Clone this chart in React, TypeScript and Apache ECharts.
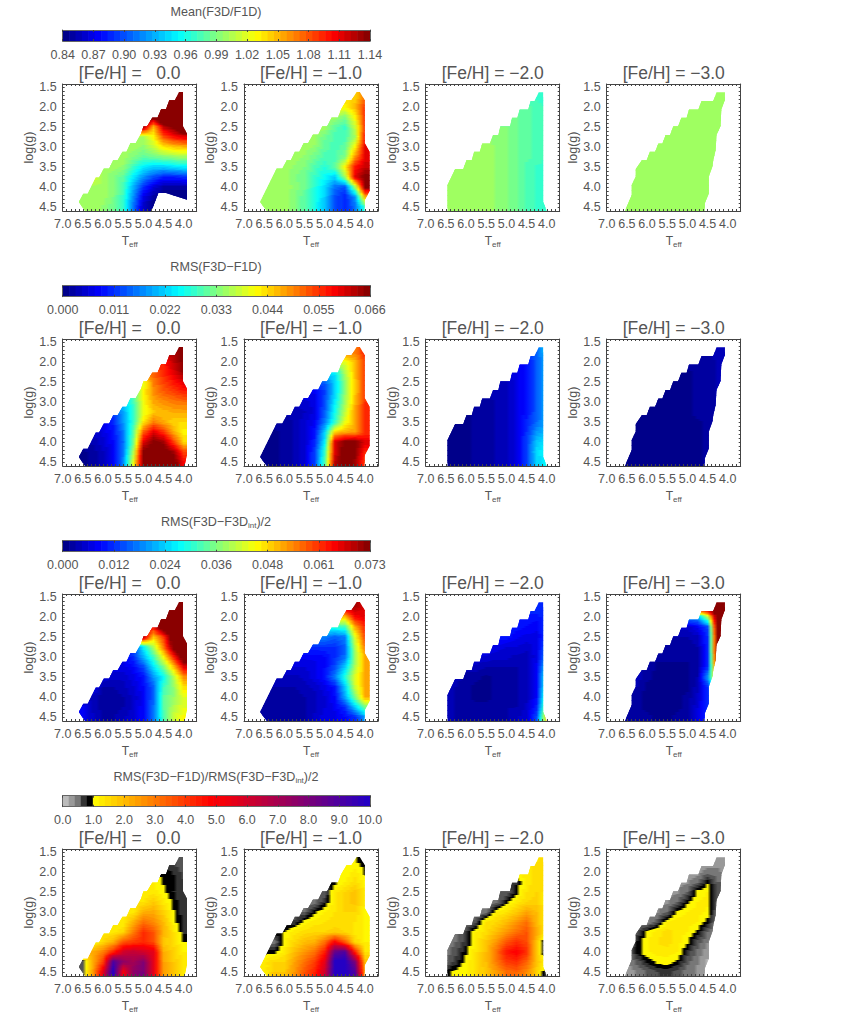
import React, { useEffect, useRef } from "react";
import * as echarts from "echarts";

const n = null;
const teffColumns = [6.5, 6.25, 6, 5.75, 5.5, 5.25, 5, 4.75, 4.5, 4.25, 4];
const loggRows = [1.75, 2, 2.25, 2.5, 2.75, 3, 3.25, 3.5, 3.75, 4, 4.25, 4.5];
const feLabels = ["0.0", "\u22121.0", "\u22122.0", "\u22123.0"];
const teffTicks = [7, 6.5, 6, 5.5, 5, 4.5, 4];
const loggTicks = [1.5, 2, 2.5, 3, 3.5, 4, 4.5];
const meanTicks = ["0.84", "0.87", "0.90", "0.93", "0.96", "0.99", "1.02", "1.05", "1.08", "1.11", "1.14"];
const rmsTicks = ["0.000", "0.011", "0.022", "0.033", "0.044", "0.055", "0.066"];
const intTicks = ["0.000", "0.012", "0.024", "0.036", "0.048", "0.061", "0.073"];
const ratioTicks = ["0.0", "1.0", "2.0", "3.0", "4.0", "5.0", "6.0", "7.0", "8.0", "9.0", "10.0"];

// outlines of the covered domain: [Teff, log g]
const outlineTop0 = [[6.45,4.6],[6.6,4.375],[6.49,4.17],[6.38,4.17],[6.18,3.76],[6.1,3.76],[5.98,3.54],[5.85,3.54],[5.75,3.33],[5.64,3.33],[5.52,3.12],[5.42,3.12],[5.32,2.9],[5.19,2.9],[5.06,2.67],[5,2.48],[4.91,2.48],[4.78,2.26],[4.65,2.26],[4.56,2.05],[4.44,2.05],[4.36,1.83],[4.22,1.83],[4.12,1.625],[4.02,1.625],[4.02,2.48],[3.92,2.67]];
const outlineFe0 = [...outlineTop0, [3.92,4.3],[3.98,4.6]];
const outlineFe0Mean = [...outlineTop0, [3.92,4.32],[4.44,4.15],[4.63,4.15],[4.8,4.6]];
const outlineFe1 = [[6.44,4.6],[6.6,4.375],[6.19,3.54],[6.05,3.54],[5.94,3.33],[5.84,3.33],[5.74,3.12],[5.63,3.12],[5.52,2.9],[5.41,2.9],[5.29,2.69],[5.16,2.69],[5.06,2.48],[4.94,2.48],[4.83,2.26],[4.67,2.26],[4.59,2.05],[4.46,1.83],[4.34,1.83],[4.21,1.625],[4.13,1.625],[4.01,1.83],[4.01,2.9],[3.89,3.12],[3.89,4.1],[4.01,4.33],[4.01,4.6]];
const outlineFe2 = [[6.46,4.6],[6.46,3.95],[6.27,3.55],[6.07,3.55],[5.99,3.33],[5.86,3.33],[5.8,3.12],[5.66,3.12],[5.6,2.91],[5.41,2.91],[5.33,2.7],[5.2,2.7],[5.15,2.48],[4.91,2.48],[4.86,2.27],[4.73,2.27],[4.67,2.06],[4.46,2.06],[4.4,1.85],[4.3,1.85],[4.2,1.63],[4.09,1.63],[4.09,4.37],[4,4.6]];
const outlineFe3 = [[6.55,4.6],[6.38,4.2],[6.38,3.95],[6.28,3.74],[6.28,3.55],[6.13,3.33],[6.01,3.33],[5.93,3.12],[5.8,3.12],[5.72,2.91],[5.62,2.91],[5.54,2.7],[5.43,2.7],[5.35,2.48],[5.23,2.48],[5.15,2.27],[5.02,2.27],[4.96,2.06],[4.73,2.06],[4.65,1.85],[4.36,1.85],[4.28,1.63],[4.07,1.63],[4.07,1.82],[4.16,2.06],[4.18,2.48],[4.28,2.7],[4.3,3.07],[4.36,3.33],[4.38,3.49],[4.47,3.74],[4.47,4.16],[4.57,4.41],[4.57,4.6]];

const meanFe0 = [
  [n,n,n,n,n,n,n,n,n,1.2,1.2],
  [n,n,n,n,n,n,n,n,1.2,1.2,1.2],
  [n,n,n,n,n,n,n,1.15,1.2,1.2,1.2],
  [n,n,n,n,n,n,1.13,1.05,1.12,1.14,1.18],
  [n,n,n,n,n,1,1,1.03,1.08,1.1,1.11],
  [n,n,n,n,1,1,0.995,1.01,1.035,1.045,1.05],
  [n,n,n,1,1,0.99,0.98,0.985,0.99,0.995,1],
  [n,n,1,1,0.995,0.97,0.95,0.94,0.94,0.945,0.95],
  [n,1.02,1,0.99,0.98,0.95,0.92,0.9,0.885,0.885,0.89],
  [n,1,1,0.99,0.975,0.93,0.89,0.865,0.85,0.85,0.85],
  [1,1,1,0.99,0.97,0.92,0.87,0.85,0.84,0.84,0.84],
  [1,1,0.995,0.985,0.965,0.91,0.86,0.84,0.84,0.84,0.84],
];
const meanFe1 = [
  [n,n,n,n,n,n,n,n,n,1.04,1.07],
  [n,n,n,n,n,n,n,n,1.03,1.05,1.09],
  [n,n,n,n,n,n,n,1,0.99,1.03,1.09],
  [n,n,n,n,n,n,1,0.98,0.97,1.01,1.09],
  [n,n,n,n,n,1,0.985,0.975,0.975,1,1.1],
  [n,n,n,n,1,0.995,0.98,0.975,0.98,1.03,1.11],
  [n,n,n,1,0.995,0.985,0.975,0.975,0.99,1.06,1.11],
  [n,n,1,0.995,0.99,0.975,0.965,0.98,1.03,1.1,1.12],
  [n,1,1,0.99,0.985,0.97,0.955,0.94,1,1.11,1.14],
  [n,1,1,0.995,0.985,0.965,0.945,0.91,0.9,1,1.14],
  [1,1,1,0.99,0.98,0.96,0.94,0.9,0.885,0.92,1.05],
  [1,1,1,0.99,0.98,0.96,0.935,0.9,0.885,0.91,0.97],
];
const meanFe2 = [
  [n,n,n,n,n,n,n,n,n,0.97,0.965],
  [n,n,n,n,n,n,n,n,0.98,0.975,0.97],
  [n,n,n,n,n,n,n,0.985,0.98,0.975,0.97],
  [n,n,n,n,n,n,0.99,0.985,0.98,0.975,0.97],
  [n,n,n,n,n,0.995,0.99,0.985,0.98,0.975,0.97],
  [n,n,n,1,1,0.995,0.99,0.985,0.98,0.975,0.97],
  [n,n,1,1,1,0.995,0.99,0.985,0.98,0.975,0.97],
  [n,1,1,1,1,0.995,0.99,0.985,0.975,0.97,0.97],
  [1,1,1,1,1,0.995,0.99,0.985,0.975,0.97,0.97],
  [1,1,1,1,1,0.995,0.99,0.985,0.975,0.97,0.97],
  [1,1,1,1,1,0.995,0.99,0.985,0.975,0.97,0.97],
  [1,1,1,1,1,0.995,0.99,0.985,0.975,0.97,0.97],
];
const meanFe3 = [
  [n,n,n,n,n,n,n,n,n,1,1],
  [n,n,n,n,n,n,n,1,1,1,1],
  [n,n,n,n,n,n,1,1,1,1,n],
  [n,n,n,n,n,1,1,1,1,1,n],
  [n,n,n,n,1,1,1,1,1,1,n],
  [n,n,n,1,1,1,1,1,1,1,n],
  [n,n,1,1,1,1,1,1,1,1,n],
  [n,1,1,1,1,1,1,1,1,1,n],
  [1,1,1,1,1,1,1,1,1,n,n],
  [1,1,1,1,1,1,1,1,1,n,n],
  [1,1,1,1,1,1,1,1,1,n,n],
  [1,1,1,1,1,1,1,1,1,n,n],
];

const rmsFe0 = [
  [n,n,n,n,n,n,n,n,n,0.064,0.066],
  [n,n,n,n,n,n,n,n,0.056,0.062,0.066],
  [n,n,n,n,n,n,n,0.052,0.056,0.06,0.065],
  [n,n,n,n,n,n,0.04,0.05,0.054,0.057,0.06],
  [n,n,n,n,n,0.03,0.042,0.049,0.052,0.054,0.056],
  [n,n,n,n,0.022,0.029,0.041,0.047,0.049,0.05,0.051],
  [n,n,n,0.012,0.019,0.028,0.04,0.045,0.046,0.047,0.047],
  [n,n,0.007,0.01,0.018,0.028,0.043,0.05,0.047,0.044,0.044],
  [n,0.004,0.006,0.009,0.016,0.031,0.052,0.06,0.055,0.047,0.042],
  [n,0.003,0.005,0.008,0.015,0.032,0.06,0.066,0.064,0.054,0.044],
  [0.001,0.002,0.004,0.007,0.016,0.036,0.066,0.068,0.068,0.064,0.054],
  [0.001,0.002,0.004,0.007,0.017,0.04,0.066,0.07,0.07,0.068,0.058],
];
const rmsFe1 = [
  [n,n,n,n,n,n,n,n,n,0.05,0.056],
  [n,n,n,n,n,n,n,n,0.04,0.046,0.054],
  [n,n,n,n,n,n,n,0.024,0.036,0.046,0.054],
  [n,n,n,n,n,n,0.014,0.022,0.034,0.045,0.054],
  [n,n,n,n,n,0.007,0.012,0.022,0.034,0.045,0.054],
  [n,n,n,n,0.005,0.006,0.013,0.024,0.035,0.046,0.055],
  [n,n,n,0.003,0.004,0.006,0.014,0.026,0.037,0.048,0.056],
  [n,n,0.002,0.003,0.005,0.007,0.016,0.028,0.04,0.047,0.055],
  [n,0.001,0.002,0.003,0.005,0.009,0.022,0.044,0.047,0.048,0.055],
  [n,0.001,0.002,0.003,0.005,0.01,0.024,0.06,0.066,0.066,0.06],
  [0.001,0.001,0.002,0.003,0.005,0.012,0.028,0.06,0.068,0.066,0.056],
  [0.001,0.001,0.002,0.003,0.005,0.012,0.03,0.062,0.068,0.064,0.054],
];
const rmsFe2 = [
  [n,n,n,n,n,n,n,n,n,0.014,0.022],
  [n,n,n,n,n,n,n,n,0.008,0.014,0.021],
  [n,n,n,n,n,n,n,0.006,0.009,0.014,0.021],
  [n,n,n,n,n,n,0.004,0.006,0.009,0.014,0.02],
  [n,n,n,n,n,0.003,0.004,0.006,0.009,0.014,0.02],
  [n,n,n,0.002,0.002,0.003,0.004,0.006,0.009,0.014,0.02],
  [n,n,0.001,0.002,0.002,0.003,0.004,0.006,0.009,0.014,0.02],
  [n,0.001,0.001,0.002,0.002,0.003,0.004,0.006,0.01,0.015,0.02],
  [0.001,0.001,0.001,0.002,0.002,0.003,0.004,0.006,0.011,0.018,0.021],
  [0.001,0.001,0.001,0.002,0.002,0.003,0.004,0.006,0.012,0.021,0.024],
  [0.001,0.001,0.001,0.002,0.002,0.003,0.004,0.006,0.012,0.023,0.025],
  [0.001,0.001,0.001,0.002,0.002,0.003,0.004,0.006,0.012,0.022,0.025],
];
const rmsFe3 = [
  [n,n,n,n,n,n,n,n,n,0.003,0.003],
  [n,n,n,n,n,n,n,0.002,0.002,0.003,0.003],
  [n,n,n,n,n,n,0.001,0.002,0.002,0.003,n],
  [n,n,n,n,n,0.001,0.001,0.002,0.002,0.003,n],
  [n,n,n,n,0.001,0.001,0.001,0.002,0.002,0.003,n],
  [n,n,n,0.001,0.001,0.001,0.001,0.002,0.002,0.003,n],
  [n,n,0.001,0.001,0.001,0.001,0.001,0.002,0.002,0.002,n],
  [n,0.001,0.001,0.001,0.001,0.001,0.001,0.001,0.002,0.002,n],
  [0.001,0.001,0.001,0.001,0.001,0.001,0.001,0.001,0.002,n,n],
  [0.001,0.001,0.001,0.001,0.001,0.001,0.001,0.001,0.002,n,n],
  [0.001,0.001,0.001,0.001,0.001,0.001,0.001,0.001,0.002,n,n],
  [0.001,0.001,0.001,0.001,0.001,0.001,0.001,0.001,0.002,n,n],
];

const intFe0 = [
  [n,n,n,n,n,n,n,n,n,0.08,0.08],
  [n,n,n,n,n,n,n,n,0.08,0.08,0.08],
  [n,n,n,n,n,n,n,0.064,0.08,0.08,0.08],
  [n,n,n,n,n,n,0.07,0.05,0.06,0.08,0.08],
  [n,n,n,n,n,0.014,0.027,0.04,0.056,0.075,0.08],
  [n,n,n,n,0.008,0.012,0.022,0.032,0.046,0.062,0.078],
  [n,n,n,0.007,0.007,0.009,0.014,0.026,0.036,0.05,0.066],
  [n,n,0.006,0.005,0.005,0.007,0.01,0.02,0.028,0.04,0.054],
  [n,0.008,0.003,0.003,0.004,0.006,0.009,0.016,0.032,0.038,0.048],
  [n,0.004,0.002,0.002,0.003,0.005,0.008,0.016,0.034,0.038,0.044],
  [0.008,0.004,0.002,0.002,0.003,0.005,0.009,0.017,0.034,0.04,0.044],
  [0.008,0.005,0.003,0.003,0.004,0.006,0.009,0.018,0.032,0.042,0.046],
];
const intFe1 = [
  [n,n,n,n,n,n,n,n,n,0.07,0.066],
  [n,n,n,n,n,n,n,n,0.05,0.064,0.066],
  [n,n,n,n,n,n,n,0.03,0.032,0.052,0.062],
  [n,n,n,n,n,n,0.018,0.016,0.018,0.044,0.06],
  [n,n,n,n,n,0.012,0.012,0.012,0.016,0.04,0.056],
  [n,n,n,n,0.008,0.008,0.009,0.012,0.017,0.038,0.052],
  [n,n,n,0.006,0.006,0.007,0.009,0.014,0.024,0.04,0.052],
  [n,n,0.004,0.004,0.005,0.007,0.01,0.018,0.03,0.044,0.052],
  [n,0.003,0.003,0.003,0.004,0.005,0.007,0.01,0.024,0.042,0.052],
  [n,0.002,0.002,0.002,0.003,0.004,0.006,0.009,0.021,0.036,0.052],
  [0.002,0.002,0.002,0.002,0.003,0.004,0.006,0.008,0.012,0.024,0.036],
  [0.002,0.002,0.002,0.002,0.003,0.005,0.007,0.007,0.009,0.012,0.02],
];
const intFe2 = [
  [n,n,n,n,n,n,n,n,n,0.012,0.012],
  [n,n,n,n,n,n,n,n,0.01,0.01,0.012],
  [n,n,n,n,n,n,n,0.01,0.009,0.008,0.012],
  [n,n,n,n,n,n,0.01,0.008,0.007,0.007,0.013],
  [n,n,n,n,n,0.007,0.006,0.006,0.005,0.007,0.017],
  [n,n,n,n,0.006,0.005,0.005,0.004,0.004,0.007,0.02],
  [n,n,n,0.004,0.003,0.003,0.003,0.003,0.004,0.008,0.026],
  [n,0.004,0.002,0.002,0.001,0.002,0.002,0.003,0.004,0.009,0.03],
  [0.004,0.003,0.002,0.001,0.001,0.002,0.002,0.003,0.004,0.009,0.032],
  [0.004,0.003,0.002,0.001,0.001,0.002,0.002,0.003,0.004,0.009,0.036],
  [0.004,0.003,0.002,0.002,0.002,0.002,0.003,0.003,0.005,0.011,0.04],
  [0.004,0.003,0.003,0.002,0.002,0.003,0.003,0.004,0.006,0.014,0.05],
];
const intFe3 = [
  [n,n,n,n,n,n,n,n,n,0.08,0.08],
  [n,n,n,n,n,n,n,0.02,0.04,0.08,0.08],
  [n,n,n,n,n,n,0.005,0.008,0.014,0.08,0.08],
  [n,n,n,n,n,0.003,0.003,0.004,0.012,0.078,0.08],
  [n,n,n,n,0.003,0.002,0.002,0.003,0.012,0.078,0.08],
  [n,n,n,0.002,0.002,0.002,0.002,0.003,0.012,0.075,n],
  [n,n,0.003,0.001,0.001,0.001,0.001,0.003,0.012,0.07,n],
  [n,0.004,0.002,0.001,0.001,0.001,0.001,0.003,0.02,0.06,n],
  [0.004,0.003,0.001,0.001,0.001,0.001,0.001,0.004,0.012,0.03,n],
  [0.003,0.002,0.001,0.001,0.001,0.001,0.002,0.005,0.012,0.02,n],
  [0.003,0.002,0.001,0.001,0.001,0.001,0.002,0.006,0.012,n,n],
  [0.003,0.002,0.002,0.001,0.001,0.002,0.003,0.007,0.012,n,n],
];

const ratioFe0 = [
  [n,n,n,n,n,n,n,n,n,0.65,0.5],
  [n,n,n,n,n,n,n,n,0.95,0.8,0.6],
  [n,n,n,n,n,n,n,1.2,0.97,0.9,0.7],
  [n,n,n,n,n,n,1.2,1.3,1.05,0.83,0.7],
  [n,n,n,n,n,n,1.4,1.8,1.3,0.92,0.7],
  [n,n,n,n,n,1.3,2.2,2.3,1.7,1.02,0.72],
  [n,n,n,n,1.2,2.2,3.2,2.8,2,1.1,0.75],
  [n,n,n,1.3,1.6,3,4.2,3.6,2.2,1.4,0.8],
  [n,1,1.6,2.2,3.6,4,4.3,3.8,1.8,1.5,1],
  [n,2.3,3,4.4,6,6.3,6,5.5,2.2,1.7,1.2],
  [0.5,2.2,4,9,7.5,7,7.8,5.5,2.4,1.8,1.3],
  [0.6,2.5,5.5,10,5,7.5,8,5.5,2.5,1.8,1.4],
];
const ratioFe1 = [
  [n,n,n,n,n,n,n,n,n,1.02,0.9],
  [n,n,n,n,n,n,n,n,1.02,1.3,0.95],
  [n,n,n,n,n,n,n,0.9,1.2,1.5,1.1],
  [n,n,n,n,n,n,0.5,1.3,1.6,1.9,1.3],
  [n,n,n,n,n,0.4,0.8,1.3,1.7,1.9,1.3],
  [n,n,n,n,0.5,0.95,1.2,1.4,1.6,1.6,1.1],
  [n,n,n,0.7,1.1,1.3,1.4,1.5,1.5,1.4,1.2],
  [n,n,1,1.3,1.5,1.6,1.6,1.7,1.6,1.3,1.2],
  [n,0.4,1.1,1.6,2,2.2,3.2,5,3.5,1.6,1.2],
  [n,0.9,1.3,2,2.6,3.2,4.5,8.5,9,4.5,1.4],
  [1.3,1.6,1.6,2.4,3.2,4,5.5,10,10,8,2],
  [1.2,1.8,1.8,2.6,3.6,4.4,6,10,10,9,2.4],
];
const ratioFe2 = [
  [n,n,n,n,n,n,n,n,n,1.4,1.5],
  [n,n,n,n,n,n,n,n,1.3,1.5,1.5],
  [n,n,n,n,n,n,n,0.8,1.3,1.5,1.4],
  [n,n,n,n,n,n,0.5,0.9,1.4,1.6,1.3],
  [n,n,n,n,n,0.4,0.9,1.3,1.6,1.7,1.2],
  [n,n,n,n,0.4,1.2,1.4,1.8,2.4,2,1.2],
  [n,n,0.4,0.6,1.4,1.6,2,2.6,3.2,2,1.1],
  [n,0.4,0.7,1.2,1.5,2,2.6,3.2,3.6,2.4,1.1],
  [0.4,0.5,0.75,1.25,1.9,2.6,3.6,4.2,3.8,1.9,0.3],
  [0.4,0.6,0.95,1.4,2,3.2,4.6,5,4.2,1.8,0.3],
  [0.5,0.75,1.1,1.5,2,3,4,4.2,3.4,1.9,1.1],
  [0.9,1.1,1.2,1.5,1.9,2.5,3.2,3.4,2.8,1.7,0.6],
];
const ratioFe3 = [
  [n,n,n,n,n,n,n,n,n,0.25,0.2],
  [n,n,n,n,n,n,n,0.25,0.4,0.4,0.2],
  [n,n,n,n,n,n,0.3,0.45,0.95,0.5,n],
  [n,n,n,n,n,0.3,0.5,1.1,1.2,0.55,n],
  [n,n,n,n,0.3,0.5,0.95,1.2,1.25,0.5,n],
  [n,n,n,0.3,0.5,1.05,1.2,1.3,1.15,0.4,n],
  [n,n,0.3,0.6,1.2,1.3,1.3,1.2,0.9,0.3,n],
  [n,0.6,1.05,1.3,1.5,1.3,1.2,0.95,0.5,0.25,n],
  [0.2,0.85,1.2,1.4,1.5,1.3,1.05,0.6,0.35,0.2,n],
  [0.3,0.9,1.15,1.3,1.3,1.2,0.75,0.45,0.2,n,n],
  [0.3,0.55,0.85,1.05,1.1,0.95,0.55,0.35,0.15,n,n],
  [0.2,0.35,0.5,0.65,0.7,0.6,0.4,0.3,0.15,n,n],
];

const meanPanels = [meanFe0, meanFe1, meanFe2, meanFe3];
const rmsPanels = [rmsFe0, rmsFe1, rmsFe2, rmsFe3];
const intPanels = [intFe0, intFe1, intFe2, intFe3];
const ratioPanels = [ratioFe0, ratioFe1, ratioFe2, ratioFe3];
const outlines = [outlineFe0, outlineFe1, outlineFe2, outlineFe3];

const jetStops: [number, number[]][] = [
  [0, [0, 0, 127]], [0.12, [0, 0, 255]], [0.38, [0, 255, 255]], [0.5, [128, 255, 128]],
  [0.63, [255, 255, 0]], [0.88, [255, 0, 0]], [1, [127, 0, 0]],
];
const ratioStops: [number, number[]][] = [[1, [255, 255, 0]], [4.9, [255, 0, 0]], [10, [32, 0, 200]]];
const grayLevels = ["#bbbbbb", "#999999", "#777777", "#555555", "#333333", "#000000"];

function ramp(stops: [number, number[]][], f: number) {
  for (let i = 1; i < stops.length; i++) {
    if (f <= stops[i][0]) {
      const [a, ca] = stops[i - 1];
      const [b, cb] = stops[i];
      const t = (f - a) / (b - a);
      return `rgb(${ca.map((c, k) => Math.round(c + (cb[k] - c) * t)).join(",")})`;
    }
  }
  const last = stops[stops.length - 1][1];
  return `rgb(${last.join(",")})`;
}
const jetColor = (lo: number, hi: number) => (v: number) => {
  const levels = 48;
  const f = Math.max(0, Math.min(0.9999, (v - lo) / (hi - lo)));
  return ramp(jetStops, (Math.floor(f * levels) + 0.5) / levels);
};
const ratioColor = (v: number) => {
  if (v < 1) return grayLevels[Math.max(0, Math.floor(v * 6))];
  const q = 1 + Math.floor((Math.min(v, 9.99) - 1) / 0.2) * 0.2;
  return ramp(ratioStops, Math.max(1, q + 0.1));
};

const FONT = "Liberation Sans";
const INK = "#555555";
const colLeft = [62.7, 244, 425.7, 606.7];
const rowTop = [84, 339, 594, 849];
const barTop = [30, 285.7, 540.7, 795.7];
const titleY = [12, 267, 522, 777];
const PW = 134;
const PH = 127;
const range = (a: number, b: number, s: number) => {
  const out: number[] = [];
  for (let v = a; v <= b + 1e-9; v += s) out.push(Math.round(v * 10) / 10);
  return out;
};
const filledRow = (vals: (number | null)[]) =>
  vals.map((v, i) => {
    if (v != null) return v;
    for (let d = 1; d < vals.length; d++) {
      if (vals[i + d] != null) return vals[i + d] as number;
      if (vals[i - d] != null) return vals[i - d] as number;
    }
    return 0;
  });

export default function App() {
  const ref = useRef<HTMLDivElement>(null);
  useEffect(() => {
    const chart = echarts.init(ref.current!, undefined, { renderer: "svg" });
    const grids: any[] = [];
    const xAxes: any[] = [];
    const yAxes: any[] = [];
    const series: any[] = [];
    const titles: any[] = [];
    const lbl = { fontFamily: FONT, color: INK };
    const line = { show: true, onZero: false, lineStyle: { color: "#444", width: 1 } };

    const addPanel = (left: number, top: number, matrix: any[], outline: number[][], color: (v: number) => string, fe: string) => {
      const g = grids.length;
      grids.push({ left, top, width: PW, height: PH, containLabel: false });
      const xMinor = range(3.7, 7, 0.1);
      const yMinor = range(1.5, 4.5, 0.1);
      const xBase = { type: "value", gridIndex: g, inverse: true, min: 3.68, max: 7, z: 5, splitLine: { show: false }, axisLine: line,
        axisTick: { show: true, inside: true, length: 2, customValues: xMinor, lineStyle: { color: "#444" } } };
      const yBase = { type: "value", gridIndex: g, inverse: true, min: 1.425, max: 4.6, z: 5, splitLine: { show: false }, axisLine: line,
        axisTick: { show: true, inside: true, length: 2, customValues: yMinor, lineStyle: { color: "#444" } } };
      const xi = xAxes.length;
      xAxes.push({ ...xBase, position: "bottom", name: "{t|T}{s|eff}", nameLocation: "middle", nameGap: 23,
        nameTextStyle: { ...lbl, rich: { t: { ...lbl, fontSize: 12 }, s: { ...lbl, fontSize: 8, padding: [6, 0, 0, 0] } } },
        axisLabel: { ...lbl, fontSize: 12.5, margin: 6, customValues: teffTicks, formatter: (v: number) => v.toFixed(1) } });
      xAxes.push({ ...xBase, position: "top", axisLabel: { show: false } });
      const yi = yAxes.length;
      yAxes.push({ ...yBase, position: "left", name: "log(g)", nameLocation: "middle", nameRotate: 90, nameGap: 27,
        nameTextStyle: { ...lbl, fontSize: 12.5 },
        axisLabel: { ...lbl, fontSize: 12.5, margin: 6, customValues: loggTicks, formatter: (v: number) => v.toFixed(1) } });
      yAxes.push({ ...yBase, position: "right", axisLabel: { show: false } });
      titles.push({ text: `[Fe/H] = ${fe === "0.0" ? "  " : ""}${fe}`, left: left + PW / 2, top: top - 11, textAlign: "center", textVerticalAlign: "middle", padding: 0,
        textStyle: { fontFamily: FONT, color: INK, fontSize: 17.5, fontWeight: "normal" } });

      const rows = matrix.map(filledRow);
      const BANDS = 12;
      const SUB = 3;
      series.push({
        type: "custom",
        coordinateSystem: "cartesian2d",
        xAxisIndex: xi,
        yAxisIndex: yi,
        silent: true,
        z: 2,
        clip: false,
        data: matrix.map((vals: any[], r: number) => [r, loggRows[r], ...vals.map((v) => (v == null ? "-" : v))]),
        renderItem: (_: any, api: any) => {
          const r = api.value(0) as number;
          const xL = api.coord([7, 3])[0];
          const xR = api.coord([3.68, 3])[0];
          const yOf = (g: number) => api.coord([5, g])[1];
          const bandRect = (y0: number, y1: number, vals: number[]) => {
            const stops: any[] = [];
            for (let c = 0; c < vals.length; c++) {
              const steps = c === vals.length - 1 ? 1 : SUB;
              for (let s = 0; s < steps; s++) {
                const t = s / SUB;
                const T = teffColumns[c] + (c + 1 < vals.length ? (teffColumns[c + 1] - teffColumns[c]) * t : 0);
                const v = vals[c] + (c + 1 < vals.length ? (vals[c + 1] - vals[c]) * t : 0);
                stops.push({ offset: (api.coord([T, 3])[0] - xL) / (xR - xL), color: color(v) });
              }
            }
            const top = Math.round(y0);
            return {
              type: "rect",
              shape: { x: xL, y: top, width: xR - xL, height: Math.round(y1) - top + 1 },
              style: { fill: new echarts.graphic.LinearGradient(0, 0, 1, 0, stops), stroke: "none" },
            };
          };
          const children: any[] = [];
          const here = rows[r];
          if (r === 0) children.push(bandRect(api.coord([5, 1.425])[1], yOf(loggRows[0]), here));
          if (r === rows.length - 1) {
            children.push(bandRect(yOf(loggRows[r]), api.coord([5, 4.6])[1] - 1, here));
          } else {
            const next = rows[r + 1];
            for (let b = 0; b < BANDS; b++) {
              const t0 = b / BANDS;
              const t1 = (b + 1) / BANDS;
              const tm = (b + 0.5) / BANDS;
              const mix = here.map((v: number, i: number) => v + (next[i] - v) * tm);
              const g0 = loggRows[r] + (loggRows[r + 1] - loggRows[r]) * t0;
              const g1 = loggRows[r] + (loggRows[r + 1] - loggRows[r]) * t1;
              children.push(bandRect(yOf(g0), yOf(g1), mix));
            }
          }
          return {
            type: "group",
            clipPath: { type: "polygon", shape: { points: outline.map((p) => api.coord(p)) } },
            children,
          };
        },
      });
    };

    const addBar = (top: number, labels: string[], levels: number, colorOf: (f: number) => string) => {
      const g = grids.length;
      grids.push({ left: 62.7, top, width: 307.3, height: 11 });
      const count = labels.length - 1;
      const xBase = { type: "value", gridIndex: g, min: 0, max: count, interval: 1, z: 5, splitLine: { show: false }, axisLine: { ...line, lineStyle: { color: "#666", width: 1 } } };
      const yBase = { type: "value", gridIndex: g, min: 0, max: 1, interval: 1, z: 5, splitLine: { show: false }, axisLabel: { show: false }, axisTick: { show: false }, axisLine: { ...line, lineStyle: { color: "#666", width: 1 } } };
      const xi = xAxes.length;
      xAxes.push({ ...xBase, position: "bottom", axisTick: { show: true, inside: true, length: 2, lineStyle: { color: "#444" } },
        axisLabel: { ...lbl, fontSize: 12.5, margin: 7, formatter: (v: number) => labels[Math.round(v)] } });
      xAxes.push({ ...xBase, position: "top", axisTick: { show: true, inside: true, length: 2, lineStyle: { color: "#444" } }, axisLabel: { show: false } });
      const yi = yAxes.length;
      yAxes.push({ ...yBase, position: "left" });
      yAxes.push({ ...yBase, position: "right" });
      series.push({
        type: "custom",
        coordinateSystem: "cartesian2d",
        xAxisIndex: xi,
        yAxisIndex: yi,
        silent: true,
        z: 2,
        data: Array.from({ length: levels }, (_, i) => [(i * count) / levels, ((i + 1) * count) / levels]),
        renderItem: (_: any, api: any) => {
          const a = api.coord([api.value(0), 1]);
          const b = api.coord([api.value(1), 0]);
          const mid = (api.value(0) + api.value(1)) / 2 / count;
          return {
            type: "rect",
            shape: { x: a[0], y: a[1], width: b[0] - a[0] + 0.6, height: b[1] - a[1] },
            style: { fill: colorOf(mid), stroke: "none" },
          };
        },
      });
    };

    const barColorJet = (f: number) => ramp(jetStops, f);
    addBar(barTop[0], meanTicks, 48, barColorJet);
    addBar(barTop[1], rmsTicks, 48, barColorJet);
    addBar(barTop[2], intTicks, 48, barColorJet);
    addBar(barTop[3], ratioTicks, 51, (f) => ratioColor(f * 10));

    const meanColor = jetColor(0.84, 1.14);
    const rmsColor = jetColor(0, 0.066);
    const intColor = jetColor(0, 0.073);
    for (let c = 0; c < 4; c++) {
      addPanel(colLeft[c], rowTop[0], meanPanels[c], c === 0 ? outlineFe0Mean : outlines[c], meanColor, feLabels[c]);
      addPanel(colLeft[c], rowTop[1], rmsPanels[c], outlines[c], rmsColor, feLabels[c]);
      addPanel(colLeft[c], rowTop[2], intPanels[c], outlines[c], intColor, feLabels[c]);
      addPanel(colLeft[c], rowTop[3], ratioPanels[c], outlines[c], ratioColor, feLabels[c]);
    }

    const sup = { t: { ...lbl, fontSize: 12.6 }, s: { ...lbl, fontSize: 8, padding: [6, 0, 0, 0] } };
    const headings = ["{t|Mean(F3D/F1D)}", "{t|RMS(F3D\u2212F1D)}", "{t|RMS(F3D\u2212F3D}{s|int}{t|)/2}", "{t|RMS(F3D\u2212F1D)/RMS(F3D\u2212F3D}{s|int}{t|)/2}"];
    headings.forEach((text, i) =>
      titles.push({ text, left: 216, top: titleY[i], textAlign: "center", textVerticalAlign: "middle", padding: 0,
        textStyle: { ...lbl, fontSize: 12.6, fontWeight: "normal", rich: sup } })
    );

    chart.setOption({ animation: false, backgroundColor: "#ffffff", title: titles, grid: grids, xAxis: xAxes, yAxis: yAxes, series });
    return () => chart.dispose();
  }, []);
  return <div ref={ref} style={{ position: "absolute", left: 0, top: 0, width: 850, height: 1024 }} />;
}
